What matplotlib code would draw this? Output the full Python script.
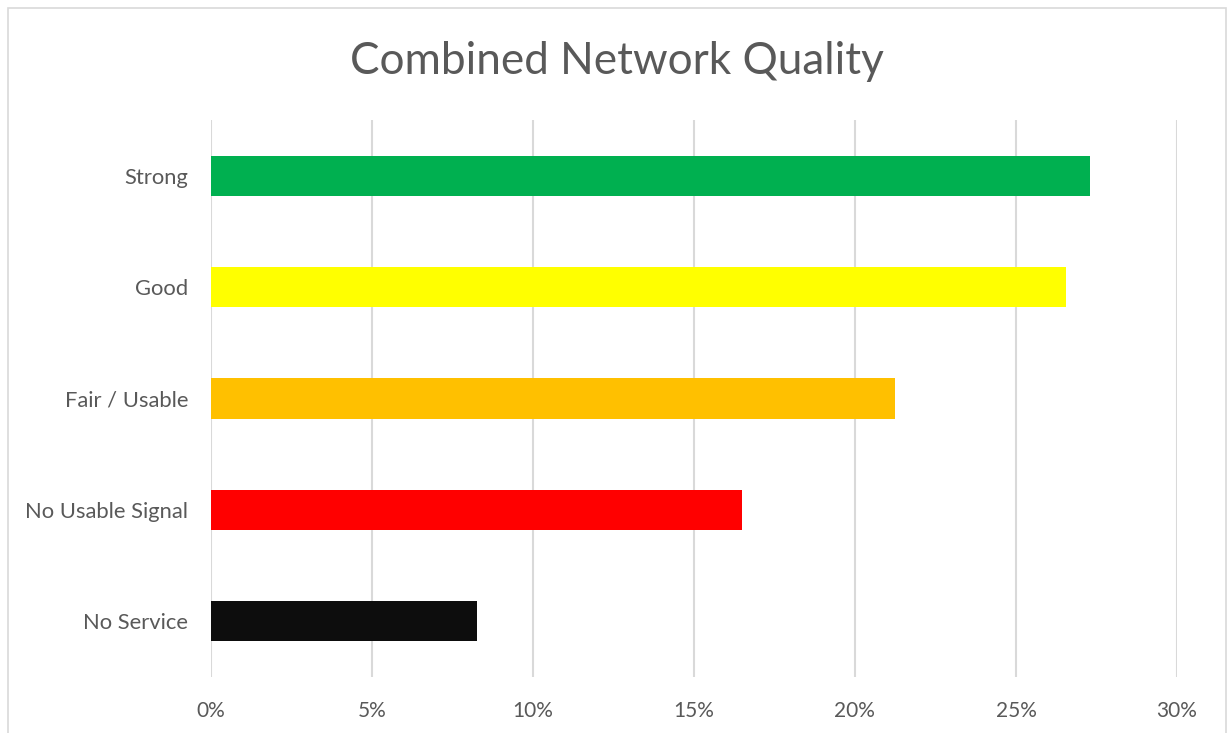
import matplotlib.pyplot as plt
from matplotlib.patches import Rectangle
from matplotlib.ticker import FuncFormatter

# network quality shares (fraction of samples)
categories = ['No Service', 'No Usable Signal', 'Fair / Usable', 'Good', 'Strong']
shares = [0.0827, 0.165, 0.2125, 0.2655, 0.273]
colors = ['#0d0d0d', '#ff0000', '#ffc000', '#ffff00', '#00b050']
ticks = [0, 0.05, 0.10, 0.15, 0.20, 0.25, 0.30]

plt.rcParams['font.family'] = ['Lato', 'DejaVu Sans']

fig = plt.figure(figsize=(12.27, 7.33), dpi=100)
ax = fig.add_axes([0.1717, 0.0764, 0.7876, 0.7599])

# light frame round the whole chart
fig.patches.append(Rectangle((8 / 1227, -0.01), 1218 / 1227, 1 - 8 / 733 + 0.01,
                             transform=fig.transFigure, fill=False,
                             edgecolor='#d9d9d9', linewidth=1.2))

ax.barh(range(len(categories)), shares, height=0.36, color=colors, zorder=3)

ax.set_xlim(0, 0.30)
ax.set_ylim(-0.5, len(categories) - 0.5)
ax.set_xticks(ticks)
ax.xaxis.set_major_formatter(FuncFormatter(lambda v, p: f'{v * 100:.0f}%'))
ax.set_yticks(range(len(categories)))
ax.set_yticklabels(categories)

ax.grid(axis='x', color='#d9d9d9', linewidth=1.5, zorder=0)
for s in ax.spines.values():
    s.set_visible(False)
ax.tick_params(length=0, labelsize=15, labelcolor='#595959')
ax.tick_params(axis='x', pad=17)
ax.tick_params(axis='y', pad=16, labelsize=15.8)

fig.text(0.503, 0.916, 'Combined Network Quality', ha='center', va='center',
         fontsize=31.8, color='#595959')

fig.savefig('out.png', dpi=100)
